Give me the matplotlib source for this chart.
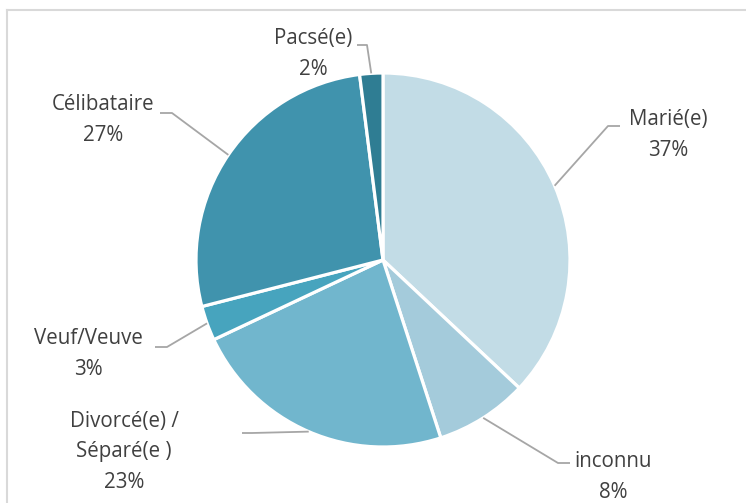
import matplotlib.pyplot as plt
import numpy as np

# situation familiale
labels = ['Marié(e)', 'inconnu', 'Divorcé(e) /\nSéparé(e )', 'Veuf/Veuve', 'Célibataire', 'Pacsé(e)']
values = [37, 8, 23, 3, 27, 2]
colors = ['#C2DCE6', '#A4CBDB', '#71B6CD', '#47A4BE', '#4093AD', '#2F7D93']

# label layout in pixels: text centre, elbow start, elbow end
label_pos = [(668, 135), (613, 477), (124, 452), (88, 354), (103, 120), (313, 54)]
elbows = [((620, 126), (608, 126)),
          ((570, 463), (558, 463)),
          ((242, 433), (252, 433)),
          ((155, 347), (167, 347)),
          ((160, 113), (172, 113)),
          ((357, 45), (367, 45))]

cx, cy, r = 383, 260, 187

fig = plt.figure(figsize=(7.46, 5.03), dpi=100)
ax = fig.add_axes([0, 0, 1, 1])

wedges, _ = ax.pie(values, colors=colors, startangle=-90, counterclock=True,
                   center=(cx, cy), radius=r,
                   wedgeprops=dict(edgecolor='white', linewidth=2.3))
ax.set_xlim(0, 746)
ax.set_ylim(503, 0)
ax.axis('off')

for w, lab, v, pos, (e1, e2) in zip(wedges, labels, values, label_pos, elbows):
    mid = np.deg2rad((w.theta1 + w.theta2) / 2)
    ax_ = cx + r * np.cos(mid)
    ay_ = cy + r * np.sin(mid)
    ax.plot([e1[0], e2[0], ax_], [e1[1], e2[1], ay_], color='#A6A6A6', lw=1.3,
            solid_capstyle='butt')
    ax.text(pos[0], pos[1], f'{lab}\n{v}%', ha='center', va='center',
            fontsize=14.8, family='Open Sans', color='#404040', linespacing=1.62)

# chart border (cut at right and bottom)
ax.plot([7, 746], [10, 10], color='#D9D9D9', lw=1.5)
ax.plot([7, 7], [10, 503], color='#D9D9D9', lw=1.5)

fig.savefig('out.png', dpi=100)
